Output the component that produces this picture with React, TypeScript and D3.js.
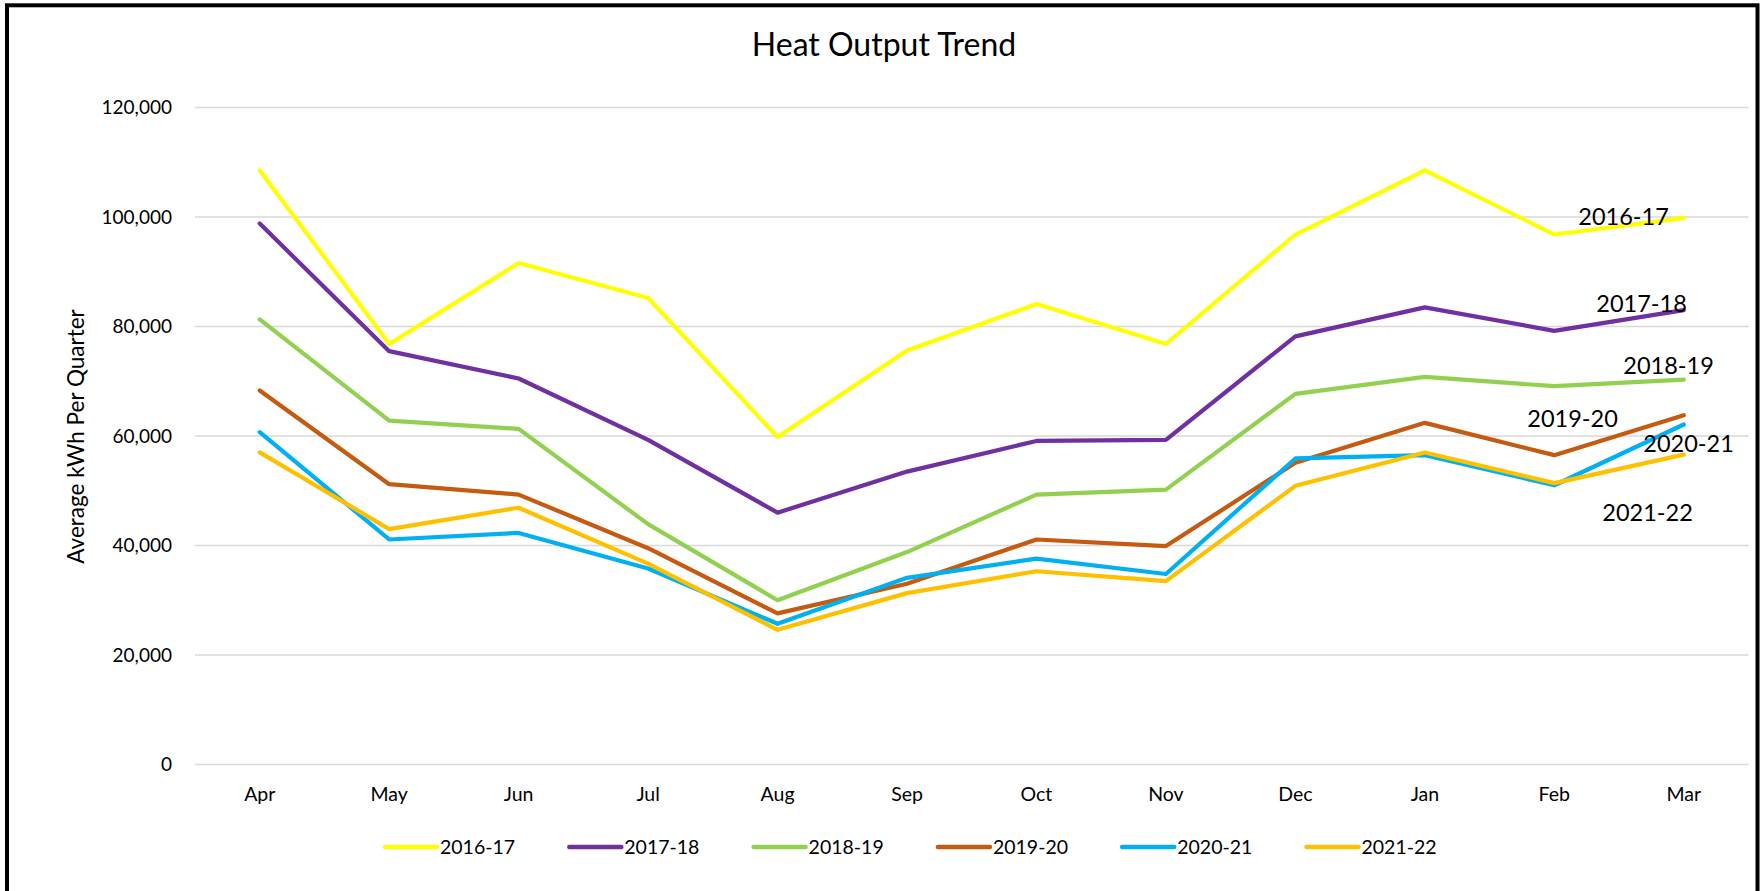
import * as d3 from 'd3';

const months = ['Apr', 'May', 'Jun', 'Jul', 'Aug', 'Sep', 'Oct', 'Nov', 'Dec', 'Jan', 'Feb', 'Mar'];

const years = ['2016-17', '2017-18', '2018-19', '2019-20', '2020-21', '2021-22'];

const v2016 = [108500, 76800, 91600, 85200, 59800, 75600, 84100, 76800, 96800, 108500, 96800, 99800];
const v2017 = [98800, 75500, 70500, 59300, 46000, 53500, 59100, 59300, 78200, 83500, 79200, 83000];
const v2018 = [81300, 62800, 61300, 43900, 30000, 38800, 49300, 50200, 67700, 70800, 69100, 70300];
const v2019 = [68300, 51200, 49300, 39500, 27600, 33000, 41100, 39900, 55100, 62400, 56500, 63800];
const v2020 = [60700, 41100, 42300, 35800, 25700, 34100, 37600, 34800, 55900, 56500, 51000, 62100];
const v2021 = [57000, 43000, 46900, 36700, 24600, 31300, 35300, 33500, 50900, 57000, 51400, 56600];

const yTicks = [0, 20000, 40000, 60000, 80000, 100000, 120000];

const colors = ['#FFFF00', '#7030A0', '#92D050', '#C55A11', '#00B0F0', '#FFC000'];

// end-of-line label placement, relative to the Mar point
const labelShift = [
  [-15, 7], [3, 2], [30, -6], [-66, 12], [50, 27], [9, 66],
];

const W = 1760;
const H = 891;
const FONT = 'Lato, "Open Sans", sans-serif';

export default function App() {
  const series = [v2016, v2017, v2018, v2019, v2020, v2021];

  const x = d3.scalePoint<string>().domain(months).range([195, 1748.5]).padding(0.5);
  const y = d3.scaleLinear().domain([0, 120000]).range([764.5, 107.5]);

  const line = d3.line<number>()
    .x((_, i) => x(months[i]) as number)
    .y(d => y(d));

  const fmt = d3.format(',');

  const legendX = d3.scaleLinear().domain([0, 1]).range([385, 569.3]);

  return (
    <svg width={W} height={H} style={{ position: 'absolute', left: 0, top: 0, background: '#fff' }} fontFamily={FONT}>
      <rect x={0} y={0} width={W} height={H} fill="#fff" />

      {/* gridlines + y ticks */}
      {yTicks.map(t => (
        <g key={t}>
          <line x1={195} x2={1748.5} y1={y(t)} y2={y(t)} stroke="#d9d9d9" strokeWidth={1.5} />
          <text x={172} y={y(t)} dy="0.35em" textAnchor="end" fontSize={19} fill="#000">{fmt(t)}</text>
        </g>
      ))}

      {/* x labels */}
      {months.map(m => (
        <text key={m} x={x(m)} y={800.5} textAnchor="middle" fontSize={19.5} fill="#000">{m}</text>
      ))}

      {/* series */}
      {series.map((s, i) => (
        <path key={years[i]} d={line(s) as string} fill="none" stroke={colors[i]} strokeWidth={4.2}
          strokeLinejoin="round" strokeLinecap="round" />
      ))}

      {/* end labels */}
      {series.map((s, i) => (
        <text key={'lbl' + i} x={(x('Mar') as number) + labelShift[i][0]} y={y(s[s.length - 1]) + labelShift[i][1]}
          textAnchor="end" fontSize={23.5} fill="#000">{years[i]}</text>
      ))}

      {/* title */}
      <text x={884} y={55.5} textAnchor="middle" fontSize={32} fill="#000">Heat Output Trend</text>

      {/* y axis title */}
      <text transform="translate(84,436.5) rotate(-90)" textAnchor="middle" fontSize={22.5} fill="#000">
        Average kWh Per Quarter
      </text>

      {/* legend */}
      {years.map((yr, i) => (
        <g key={'leg' + yr} transform={`translate(${legendX(i)},847)`}>
          <line x1={0} x2={52} y1={0} y2={0} stroke={colors[i]} strokeWidth={4.5} strokeLinecap="round" />
          <text x={55} y={0} dy="0.35em" fontSize={19.5} fill="#000">{yr}</text>
        </g>
      ))}

      {/* frame */}
      <rect x={7} y={5.3} width={1750.5} height={1000} fill="none" stroke="#000" strokeWidth={4} />
    </svg>
  );
}
